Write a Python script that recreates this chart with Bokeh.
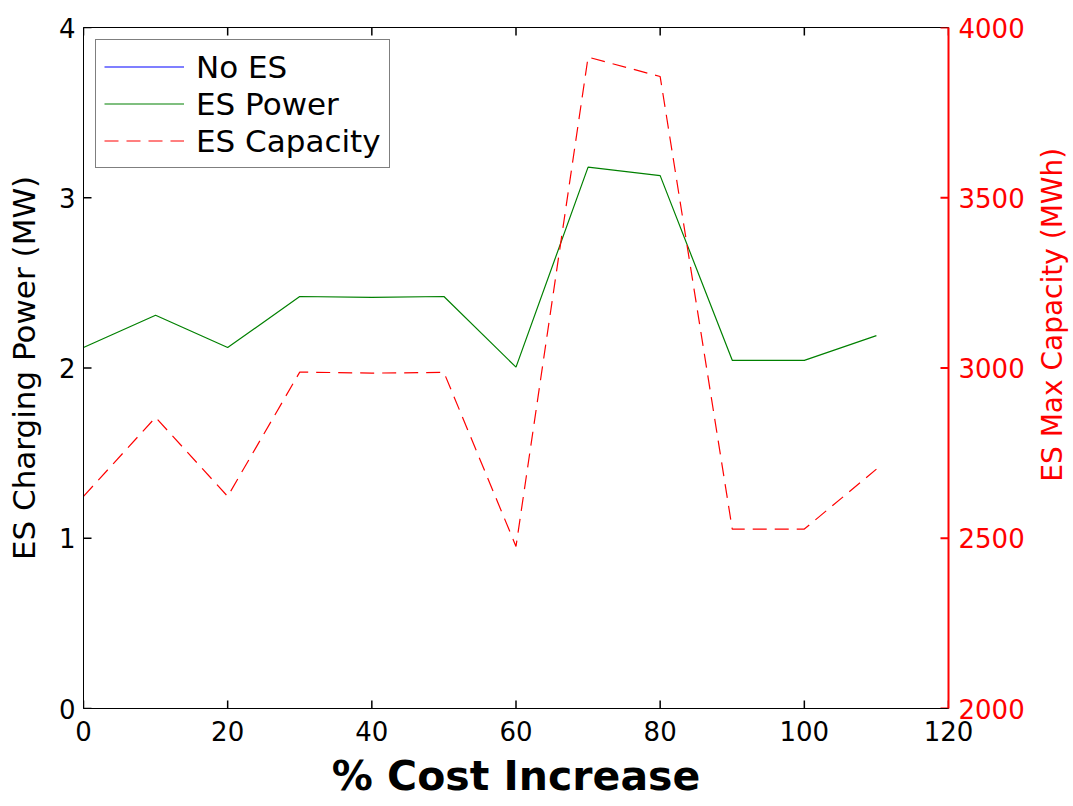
import math
from bokeh.plotting import figure
from bokeh.layouts import row
from bokeh.models import Range1d, LinearAxis, Legend, LegendItem, FixedTicker
from bokeh.core.properties import value
from bokeh.embed import file_html
from bokeh.resources import INLINE

cost_increase = [0, 10, 20, 30, 40, 50, 60, 70, 80, 90, 100, 110]
no_es_power = [0, 0, 0, 0, 0, 0, 0, 0, 0, 0, 0, 0]
es_power = [2.12, 2.31, 2.12, 2.42, 2.415, 2.42, 2.005, 3.18, 3.13, 2.045, 2.045, 2.19]
es_capacity = [2623, 2855, 2623, 2988, 2985, 2987, 2476, 3913, 3856, 2527, 2527, 2703]

x_ticks = [0, 20, 40, 60, 80, 100, 120]
left_ticks = [0, 1, 2, 3, 4]
right_ticks = [2000, 2500, 3000, 3500, 4000]

FONT = "DejaVu Sans"
X_MIN, X_MAX = 0, 120
Y_MIN, Y_MAX = 0, 4
C_MIN, C_MAX = 2000, 4000

W, H = 1033, 806
B_L, B_R, B_T, B_B = 83, 85, 27, 98
FRAME_W = W - B_L - B_R
FRAME_H = H - B_T - B_B
TICK_PX = 8

p = figure(width=W, height=H, output_backend="svg", toolbar_location=None,
           x_range=Range1d(X_MIN, X_MAX), y_range=Range1d(Y_MIN, Y_MAX),
           min_border_left=B_L, min_border_right=B_R, min_border_top=B_T, min_border_bottom=B_B)
p.extra_y_ranges = {"cap": Range1d(C_MIN, C_MAX)}
p.grid.visible = False
p.outline_line_color = "black"
p.outline_line_width = 1
p.background_fill_color = "white"
p.border_fill_color = "white"

r_no = p.line(cost_increase, no_es_power, line_color="#0000ff", line_width=1.2)
r_pw = p.line(cost_increase, es_power, line_color="#008000", line_width=1.2)
r_cap = p.line(cost_increase, es_capacity, y_range_name="cap", line_color="#ff0000",
               line_width=1.2, line_dash="14 8")

# inward tick marks
ty = TICK_PX * (Y_MAX - Y_MIN) / FRAME_H
tx = TICK_PX * (X_MAX - X_MIN) / FRAME_W
n = len(x_ticks)
p.segment(x0=x_ticks, y0=[Y_MIN] * n, x1=x_ticks, y1=[Y_MIN + ty] * n, line_color="black", line_width=1.5)
p.segment(x0=x_ticks, y0=[Y_MAX] * n, x1=x_ticks, y1=[Y_MAX - ty] * n, line_color="black", line_width=1.5)
m = len(left_ticks)
p.segment(x0=[X_MIN] * m, y0=left_ticks, x1=[X_MIN + tx] * m, y1=left_ticks, line_color="black", line_width=1.5)
k = len(right_ticks)
p.segment(x0=[X_MAX] * k, y0=right_ticks, x1=[X_MAX - tx] * k, y1=right_ticks, y_range_name="cap",
          line_color="#ff0000", line_width=2)

def style(ax, color="black"):
    ax.axis_line_color = color
    ax.major_tick_line_color = None
    ax.major_label_text_color = color
    ax.axis_label_text_color = color
    ax.major_tick_in = 0
    ax.major_tick_out = 0
    ax.minor_tick_line_color = None
    ax.major_label_text_font = FONT
    ax.major_label_text_font_size = "26px"
    ax.axis_label_text_font = FONT
    ax.axis_label_text_font_style = "normal"

xa = p.xaxis[0]
style(xa)
xa.ticker = FixedTicker(ticks=x_ticks)
xa.axis_label = "% Cost Increase"
xa.axis_label_text_font_size = "41px"
xa.axis_label_text_font_style = "bold"
xa.axis_label_standoff = 8
xa.major_label_standoff = 12

ya = p.yaxis[0]
style(ya)
ya.ticker = FixedTicker(ticks=left_ticks)
ya.axis_label = "ES Charging Power (MW)"
ya.axis_label_text_font_size = "31px"
ya.major_label_standoff = 8
ya.axis_label_standoff = 14

ra = LinearAxis(y_range_name="cap", ticker=FixedTicker(ticks=right_ticks))
style(ra, "#ff0000")
ra.axis_line_width = 2
ra.major_label_standoff = 10
p.add_layout(ra, "right")

legend = Legend(items=[LegendItem(label="No ES", renderers=[r_no]),
                       LegendItem(label="ES Power", renderers=[r_pw]),
                       LegendItem(label="ES Capacity", renderers=[r_cap])],
                location="top_left")
legend.margin = 12
legend.padding = 8
legend.spacing = 0
legend.glyph_width = 80
legend.glyph_height = 37
legend.label_height = 37
legend.label_standoff = 12
legend.label_text_font = FONT
legend.label_text_font_size = "31px"
legend.label_text_color = "black"
legend.border_line_color = "black"
legend.border_line_width = 1
legend.background_fill_alpha = 1
p.add_layout(legend, "center")

# right-hand axis title panel (reads bottom to top, like the reference)
LW = 40
q = figure(width=LW, height=H, output_backend="svg", toolbar_location=None,
           x_range=Range1d(0, LW), y_range=Range1d(0, H),
           min_border_left=0, min_border_right=0, min_border_top=0, min_border_bottom=0)
q.axis.visible = False
q.grid.visible = False
q.outline_line_color = None
q.background_fill_color = "white"
q.border_fill_color = "white"
q.text(x=[LW / 2 - 1], y=[H - 340], text=["ES Max Capacity (MWh)"], angle=math.pi / 2,
       text_align="center", text_baseline="middle", text_color="#ff0000",
       text_font=value(FONT), text_font_size="28px")

layout = row(p, q, spacing=0)
open("out.html", "w").write(file_html(layout, INLINE))
